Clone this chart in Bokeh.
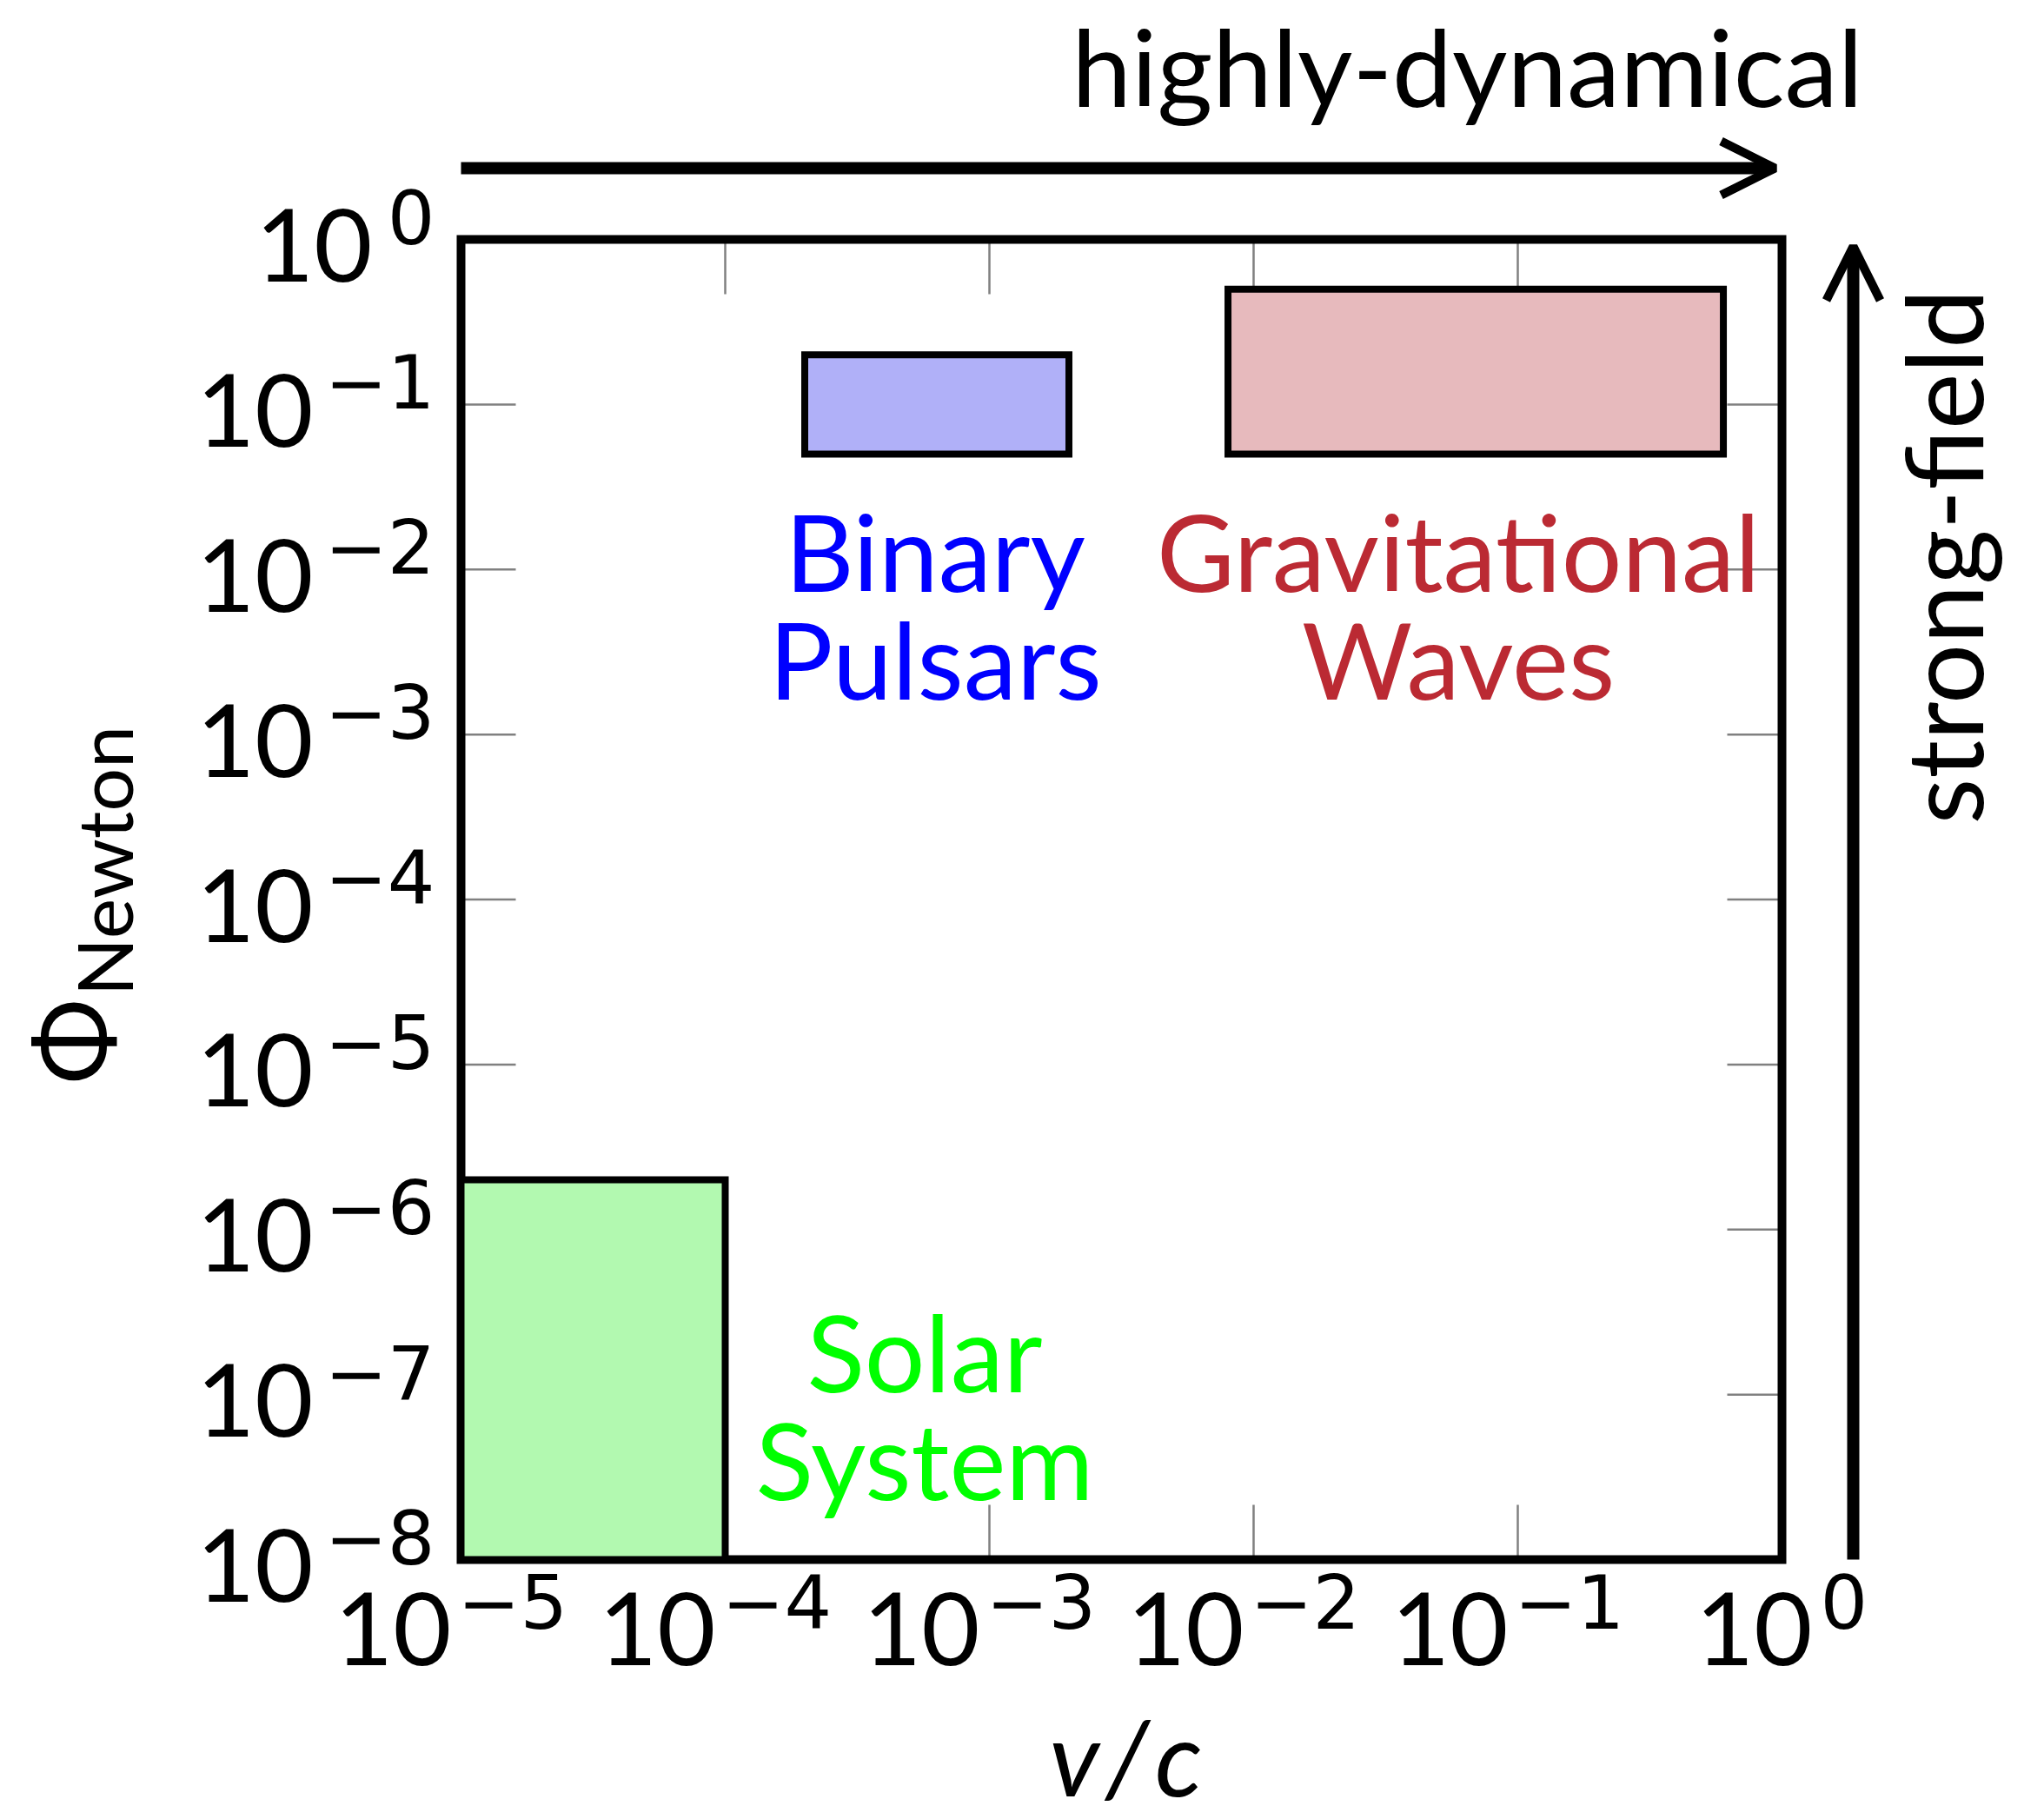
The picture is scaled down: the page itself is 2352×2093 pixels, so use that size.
import math
from bokeh.plotting import figure
from bokeh.models import Range1d, Arrow, OpenHead, ColumnDataSource
from bokeh.embed import file_html
from bokeh.resources import INLINE
from bokeh.core.properties import value

# ---------------- data ----------------
regions = ["Solar System", "Binary Pulsars", "Gravitational Waves"]
v_low = [1e-5, 2e-4, 8e-3]
v_high = [1e-4, 2e-3, 0.6]
phi_low = [1e-8, 0.05, 0.05]
phi_high = [2e-6, 0.2, 0.5]
fill_colors = ["#b2f9b0", "#b0b0f8", "#e7babd"]
text_colors = ["#00ff00", "#0000ff", "#bb2a33"]

label_line1 = ["Solar", "Binary", "Gravitational"]
label_line2 = ["System", "Pulsars", "Waves"]
label_v = [10 ** -3.245, 10 ** -3.205, 10 ** -1.225]
label_phi1 = [10 ** -6.995, 10 ** -2.142, 10 ** -2.142]
label_phi2 = [10 ** -7.647, 10 ** -2.80, 10 ** -2.80]

v_axis = [1e-5, 1.0]          # v/c axis range
phi_axis = [1e-8, 1.0]        # Phi axis range
x_tick_exps = [-5, -4, -3, -2, -1, 0]
y_tick_exps = [0, -1, -2, -3, -4, -5, -6, -7, -8]
x_inner_ticks = [1e-4, 1e-3, 1e-2, 1e-1]
y_inner_ticks = [1e-1, 1e-2, 1e-3, 1e-4, 1e-5, 1e-6, 1e-7]

x_title = "v\u200a/\u200ac"
y_title_main = "\u03a6"
y_title_sub = "Newton"
top_note = "highly-dynamical"
right_note = "strong-field"

# ---------------- layout constants (pixels) ----------------
W, H = 2352, 2093
BOX_L, BOX_R, BOX_T, BOX_B = 530, 2050, 275, 1794
DX = (BOX_R - BOX_L) / (math.log10(v_axis[1]) - math.log10(v_axis[0]))
DY = (BOX_B - BOX_T) / (math.log10(phi_axis[1]) - math.log10(phi_axis[0]))
FONT = "Lato"
EXP_FONT = "DejaVu Sans"
SHIFT = 0.40  # compensation of the alphabetic baseline placement, in em


def sh(fs):
    return SHIFT * fs


x_lo = 10 ** (math.log10(v_axis[0]) - BOX_L / DX)
x_hi = 10 ** (math.log10(v_axis[1]) + (W - BOX_R) / DX)
y_lo = 10 ** (math.log10(phi_axis[0]) - (H - BOX_B) / DY)
y_hi = 10 ** (math.log10(phi_axis[1]) + BOX_T / DY)

p = figure(width=W, height=H, x_axis_type="log", y_axis_type="log",
           x_range=Range1d(x_lo, x_hi), y_range=Range1d(y_lo, y_hi),
           x_axis_location=None, y_axis_location=None,
           output_backend="svg", toolbar_location=None,
           min_border=0)
p.grid.visible = False
p.outline_line_color = None
p.background_fill_color = "white"
p.border_fill_color = "white"

# ---------------- ticks (inward, all four sides) ----------------
TICK = 63
tick_kw = dict(length=TICK, length_units="screen", line_color="#808080", line_width=2.5)
p.ray(x=x_inner_ticks, y=[phi_axis[0]] * len(x_inner_ticks), angle=math.pi / 2, **tick_kw)
p.ray(x=x_inner_ticks, y=[phi_axis[1]] * len(x_inner_ticks), angle=-math.pi / 2, **tick_kw)
p.ray(x=[v_axis[0]] * len(y_inner_ticks), y=y_inner_ticks, angle=0, **tick_kw)
p.ray(x=[v_axis[1]] * len(y_inner_ticks), y=y_inner_ticks, angle=math.pi, **tick_kw)

# axis box
p.quad(left=[v_axis[0]], right=[v_axis[1]], bottom=[phi_axis[0]], top=[phi_axis[1]],
       fill_color=None, line_color="black", line_width=10, line_join="miter")

# ---------------- regions ----------------
src = ColumnDataSource(dict(left=v_low, right=v_high, bottom=phi_low, top=phi_high,
                            fill=fill_colors, name=regions))
p.quad(left="left", right="right", bottom="bottom", top="top", source=src,
       fill_color="fill", line_color="black", line_width=8, line_join="miter")

FS_LAB = 123
tsrc = ColumnDataSource(dict(x=label_v + label_v, y=label_phi1 + label_phi2,
                             text=label_line1 + label_line2,
                             color=text_colors + text_colors))
p.text(x="x", y="y", text="text", source=tsrc, text_color="color",
       text_font=value(FONT), text_font_size=f"{FS_LAB}px", text_align="center",
       text_baseline="alphabetic", y_offset=-sh(FS_LAB))


def exp_str(e):
    return "0" if e == 0 else "\u2212" + str(-e)


FS_10 = 116
FS_EXP = 86


def put(x, y, text, fs, dx=0.0, dy=0.0, align="left", angle=0.0, style="normal",
        font=FONT, shift=True):
    # dx, dy: screen offsets in px (dy positive = down); baseline compensation applied
    s = sh(fs) if shift else 0.0
    if angle == 0.0:
        xo, yo = dx, dy - s
    else:
        xo, yo = dx - s, dy
    p.text(x=[x], y=[y], text=[text], text_font=value(font), text_font_size=f"{fs}px",
           text_font_style=style, text_color="black", text_align=align,
           text_baseline="alphabetic", angle=angle, x_offset=xo, y_offset=yo)


# x tick labels
for e in x_tick_exps:
    xv = 10.0 ** e
    base_off, exp_off = (-11, -4) if e < 0 else (35, 44)
    put(xv, phi_axis[0], "10", FS_10, dx=base_off, dy=126, align="right")
    put(xv, phi_axis[0], exp_str(e), FS_EXP, dx=exp_off, dy=82, align="left", font=EXP_FONT)

# y tick labels
for e in y_tick_exps:
    yv = 10.0 ** e
    base_off = -170 if e < 0 else -102
    put(v_axis[0], yv, "10", FS_10, dx=base_off, dy=53, align="right")
    put(v_axis[0], yv, exp_str(e), FS_EXP, dx=-30, dy=8, align="right", font=EXP_FONT)

# ---------------- titles ----------------
put(v_axis[0], phi_axis[0], x_title, 120, dx=1295 - BOX_L, dy=2068 - BOX_B,
    align="center", style="italic")
put(v_axis[0], phi_axis[0], y_title_main, 118, dx=129 - BOX_L, dy=1198 - BOX_B,
    align="center", angle=math.pi / 2)
put(v_axis[0], phi_axis[0], y_title_sub, 88, dx=154 - BOX_L, dy=990 - BOX_B,
    align="center", angle=math.pi / 2)

# ---------------- arrows and notes ----------------
y_arrow = 10 ** (math.log10(phi_axis[1]) + (BOX_T - 193) / DY)
x_arrow_tip = 10 ** (math.log10(v_axis[1]) - (BOX_R - 2042) / DX)
x_arrow = 10 ** (math.log10(v_axis[1]) + (2132 - BOX_R) / DX)
y_arrow_tip = 10 ** (math.log10(phi_axis[1]) - (283 - BOX_T) / DY)

p.add_layout(Arrow(end=OpenHead(size=62, line_width=10, line_color="black"),
                   x_start=v_axis[0], y_start=y_arrow, x_end=x_arrow_tip, y_end=y_arrow,
                   line_width=14, line_color="black"))
p.add_layout(Arrow(end=OpenHead(size=62, line_width=10, line_color="black"),
                   x_start=x_arrow, y_start=phi_axis[0], x_end=x_arrow, y_end=y_arrow_tip,
                   line_width=14, line_color="black"))

put(v_axis[1], phi_axis[1], top_note, 123, dx=1688 - BOX_R, dy=124 - BOX_T, align="center")
put(v_axis[1], phi_axis[1], right_note, 122, dx=2283 - BOX_R, dy=640 - BOX_T,
    align="center", angle=math.pi / 2)

open("out.html", "w").write(file_html(p, INLINE))
